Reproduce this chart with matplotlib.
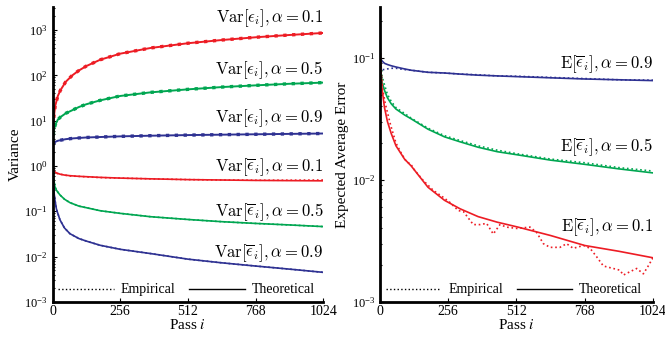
import matplotlib
matplotlib.use("Agg")
import matplotlib.pyplot as plt
from matplotlib.lines import Line2D

plt.rcParams["font.family"] = ["Liberation Serif", "DejaVu Serif"]
plt.rcParams["mathtext.fontset"] = "stix"

RED = "#ed1c24"
GREEN = "#00a651"
BLUE = "#2e3192"

# ---- left panel: variance ----
var_i = [0, 2, 5, 10, 20, 30, 50, 75, 100, 128, 180, 256, 370, 512, 640, 768, 896, 1024]
var_err_01 = [3, 7, 12, 21, 35, 47, 72, 100, 128, 160, 220, 300, 400, 510, 600, 690, 775, 860]
var_err_05 = [3, 4.5, 6, 8, 10.5, 12, 14.5, 17, 20, 23, 28, 35, 42, 49, 55, 60, 65, 69]
var_err_09 = [3.0, 3.1, 3.2, 3.4, 3.6, 3.7, 3.9, 4.05, 4.15, 4.25, 4.35, 4.5, 4.65, 4.8, 4.9, 5.0, 5.1, 5.2]

bar_i = [0, 1, 3, 6, 9, 15, 28, 45, 66, 100, 128, 180, 256, 370, 512, 640, 768, 896, 1024]
var_bar_01 = [1.0, 0.92, 0.85, 0.78, 0.74, 0.7, 0.66, 0.63, 0.61, 0.59, 0.58, 0.56, 0.54, 0.52, 0.5, 0.49, 0.48, 0.475, 0.47]
var_bar_01_emp = [1.0, 0.92, 0.84, 0.78, 0.73, 0.69, 0.66, 0.63, 0.6, 0.59, 0.575, 0.555, 0.54, 0.52, 0.5, 0.49, 0.485, 0.485, 0.49]
var_bar_05 = [1.0, 0.8, 0.6, 0.45, 0.35, 0.29, 0.23, 0.185, 0.155, 0.13, 0.12, 0.103, 0.09, 0.076, 0.066, 0.059, 0.054, 0.05, 0.046]
var_bar_09 = [1.0, 0.7, 0.4, 0.25, 0.18, 0.11, 0.065, 0.043, 0.032, 0.025, 0.022, 0.0178, 0.0145, 0.0117, 0.0088, 0.0073, 0.0062, 0.0053, 0.0045]

# ---- right panel: expected average error ----
err_i = [0, 2, 4, 8, 17, 28, 42, 60, 92, 117, 180, 242, 300, 368, 440, 518, 640, 768, 896, 1024]
err_09 = [0.11, 0.1, 0.097, 0.094, 0.09, 0.088, 0.086, 0.084, 0.081, 0.079, 0.076, 0.075, 0.0735, 0.072, 0.071, 0.07, 0.0685, 0.067, 0.066, 0.065]
err_09_emp = [0.11, 0.092, 0.085, 0.08, 0.08, 0.081, 0.082, 0.082, 0.08, 0.079, 0.076, 0.075, 0.0735, 0.0725, 0.071, 0.0705, 0.069, 0.0675, 0.066, 0.0655]
err_05 = [0.13, 0.09, 0.075, 0.063, 0.054, 0.047, 0.042, 0.038, 0.034, 0.0316, 0.026, 0.0225, 0.0205, 0.0185, 0.017, 0.016, 0.0145, 0.0134, 0.0123, 0.0114]
err_05_emp = [0.13, 0.1, 0.085, 0.07, 0.06, 0.05, 0.044, 0.039, 0.035, 0.032, 0.0265, 0.023, 0.021, 0.019, 0.0175, 0.0163, 0.0148, 0.0138, 0.0126, 0.0118]
err_01 = [0.14, 0.095, 0.074, 0.055, 0.039, 0.03, 0.024, 0.019, 0.0148, 0.013, 0.0087, 0.0068, 0.0058, 0.005, 0.0045, 0.0041, 0.0035, 0.0029, 0.0026, 0.0023]

emp_01_i = [0, 4, 10, 20, 40, 60, 80, 100, 115, 130, 162, 200, 237, 260, 294, 313, 350, 375, 400, 425,
            450, 475, 513, 563, 588, 613, 638, 675, 700, 725, 763, 788, 813, 838, 875, 900, 913, 938,
            963, 988, 1005, 1024]
err_01_emp = [0.14, 0.08, 0.055, 0.042, 0.028, 0.02, 0.0165, 0.014, 0.0135, 0.012, 0.0099, 0.0082, 0.0072,
              0.0066, 0.0056, 0.0055, 0.0043, 0.0043, 0.0044, 0.0036, 0.0043, 0.0041, 0.004, 0.0041,
              0.0037, 0.003, 0.0028, 0.0028, 0.003, 0.00275, 0.0029, 0.00275, 0.00234, 0.00197, 0.00188,
              0.00182, 0.00166, 0.00177, 0.00188, 0.0017, 0.00195, 0.0023]

x_ticks = [0, 256, 512, 768, 1024]


def style_axes(ax, ylim):
    ax.set_yscale("log")
    ax.set_xlim(0, 1024)
    ax.set_ylim(*ylim)
    ax.set_xticks(x_ticks)
    ax.set_xticklabels([str(t) for t in x_ticks])
    for side in ("top", "right"):
        ax.spines[side].set_visible(False)
    for side in ("left", "bottom"):
        ax.spines[side].set_linewidth(2.0)
    ax.tick_params(which="both", direction="in", labelsize=10, width=0.8)
    ax.tick_params(axis="y", which="major", labelsize=9, length=3)
    ax.tick_params(axis="y", which="minor", length=1.5)
    ax.tick_params(axis="x", which="major", length=3, pad=2)
    ax.set_xlabel("Pass $i$", fontsize=11, labelpad=0)
    handles = [Line2D([], [], color="black", ls=":", lw=1.0),
               Line2D([], [], color="black", ls="-", lw=1.0)]
    ax.legend(handles, ["Empirical", "Theoretical"], ncol=2, frameon=False, loc="lower left",
              fontsize=10, handlelength=4.0, handletextpad=0.5, columnspacing=1.0,
              borderaxespad=0.2, borderpad=0.2)


def label(ax, y, s):
    ax.text(1024, y, s, ha="right", va="center", fontsize=12, math_fontfamily="cm")


fig = plt.figure(figsize=(6.65, 3.37), dpi=100)
ax1 = fig.add_axes([0.079, 0.104, 0.407, 0.875])
ax2 = fig.add_axes([0.5714, 0.104, 0.4105, 0.875])

# left: variance
for vals, c in ((var_err_01, RED), (var_err_05, GREEN), (var_err_09, BLUE)):
    ax1.plot(var_i, vals, color=c, lw=1.4)
    ax1.plot(var_i, vals, color=c, lw=2.4, ls=":")
ax1.plot(bar_i, var_bar_01, color=RED, lw=1.2)
ax1.plot(bar_i, var_bar_01_emp, color=RED, lw=1.2, ls=":")
for vals, c in ((var_bar_05, GREEN), (var_bar_09, BLUE)):
    ax1.plot(bar_i, vals, color=c, lw=1.2)
    ax1.plot(bar_i, vals, color=c, lw=1.2, ls=":")
style_axes(ax1, (1e-3, 3200))
ax1.set_ylabel("Variance", fontsize=11, labelpad=2)
label(ax1, 1850, r"$\mathrm{Var}[\epsilon_i], \alpha = 0.1$")
label(ax1, 132, r"$\mathrm{Var}[\epsilon_i], \alpha = 0.5$")
label(ax1, 11.5, r"$\mathrm{Var}[\epsilon_i], \alpha = 0.9$")
label(ax1, 0.95, r"$\mathrm{Var}[\overline{\epsilon}_i], \alpha = 0.1$")
label(ax1, 0.095, r"$\mathrm{Var}[\overline{\epsilon}_i], \alpha = 0.5$")
label(ax1, 0.012, r"$\mathrm{Var}[\overline{\epsilon}_i], \alpha = 0.9$")

# right: expected average error
ax2.plot(err_i, err_09, color=BLUE, lw=1.2)
ax2.plot(err_i, err_09_emp, color=BLUE, lw=1.2, ls=":")
ax2.plot(err_i, err_05, color=GREEN, lw=1.2)
ax2.plot(err_i, err_05_emp, color=GREEN, lw=1.2, ls=":")
ax2.plot(err_i, err_01, color=RED, lw=1.2)
ax2.plot(emp_01_i, err_01_emp, color=RED, lw=1.2, ls=":")
style_axes(ax2, (1e-3, 0.26))
ax2.set_ylabel("Expected Average Error", fontsize=11, labelpad=2)
label(ax2, 0.089, r"$\mathrm{E}[\overline{\epsilon}_i], \alpha = 0.9$")
label(ax2, 0.0187, r"$\mathrm{E}[\overline{\epsilon}_i], \alpha = 0.5$")
label(ax2, 0.0041, r"$\mathrm{E}[\overline{\epsilon}_i], \alpha = 0.1$")

fig.savefig("out.png", dpi=100)
